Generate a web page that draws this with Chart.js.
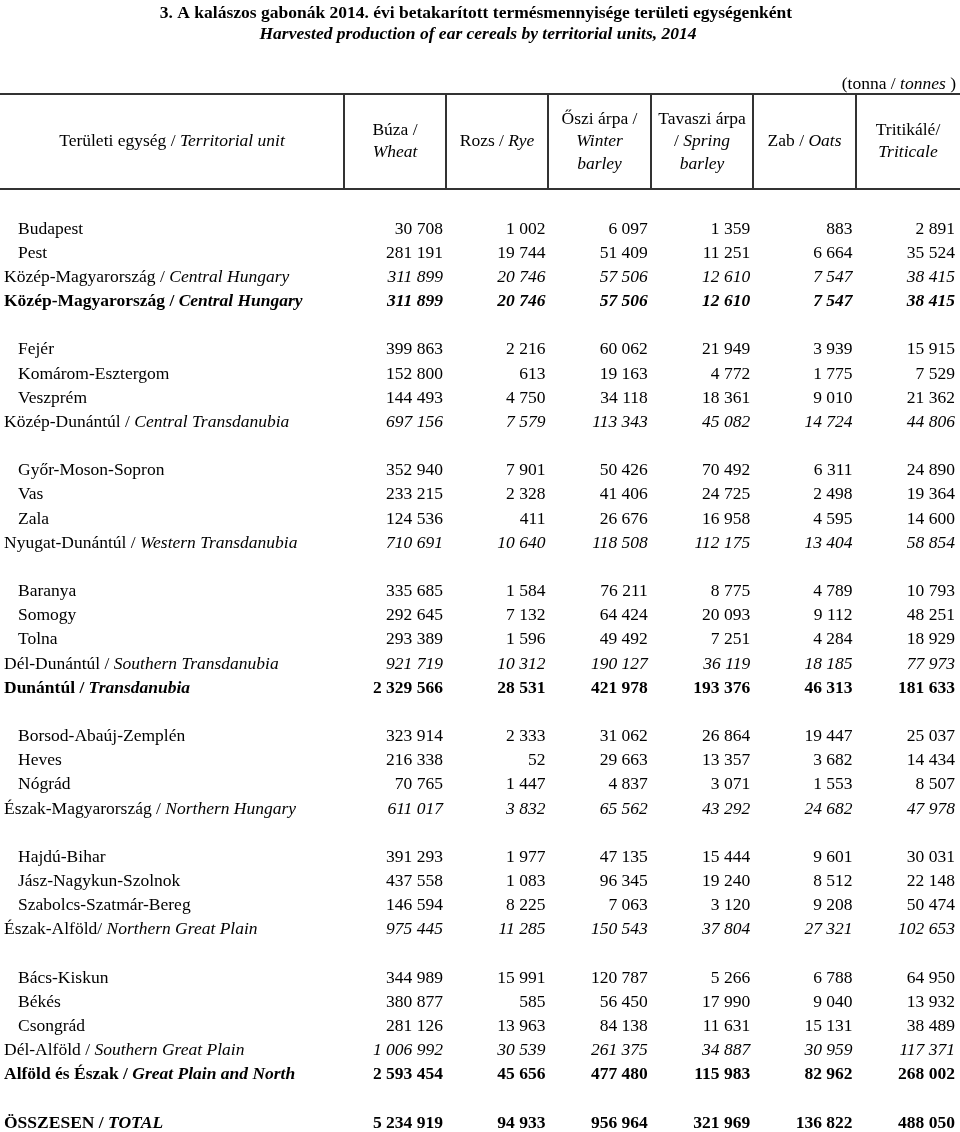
<!DOCTYPE html>
<html>
<head>
<meta charset="utf-8">
<script src="https://cdn.jsdelivr.net/npm/chart.js@4.4.1/dist/chart.umd.min.js"></script>
<style>
  body { margin: 0 ; background: #fff ; }
  #wrap { position: relative ; width: 960px ; height: 1132px ; }
</style>
</head>
<body>
<div id="wrap"><canvas id="table"></canvas></div>
<script>
const tableElement = document.getElementById('table') ;

// territorial units (hungarian part / english part)
const units = ['Budapest', 'Pest', 'Közép-Magyarország / ', 'Közép-Magyarország / ',
  'Fejér', 'Komárom-Esztergom', 'Veszprém', 'Közép-Dunántúl / ',
  'Győr-Moson-Sopron', 'Vas', 'Zala', 'Nyugat-Dunántúl / ',
  'Baranya', 'Somogy', 'Tolna', 'Dél-Dunántúl / ', 'Dunántúl / ',
  'Borsod-Abaúj-Zemplén', 'Heves', 'Nógrád', 'Észak-Magyarország / ',
  'Hajdú-Bihar', 'Jász-Nagykun-Szolnok', 'Szabolcs-Szatmár-Bereg', 'Észak-Alföld/ ',
  'Bács-Kiskun', 'Békés', 'Csongrád', 'Dél-Alföld / ', 'Alföld és Észak / ',
  'ÖSSZESEN / '] ;
const unitsEn = ['', '', 'Central Hungary', 'Central Hungary',
  '', '', '', 'Central Transdanubia',
  '', '', '', 'Western Transdanubia',
  '', '', '', 'Southern Transdanubia', 'Transdanubia',
  '', '', '', 'Northern Hungary',
  '', '', '', 'Northern Great Plain',
  '', '', '', 'Southern Great Plain', 'Great Plain and North',
  'TOTAL'] ;
// county = plain row, region = italic sum, regionBold / bold = emphasised sums
const kinds = ['county', 'county', 'region', 'regionBold',
  'county', 'county', 'county', 'region',
  'county', 'county', 'county', 'region',
  'county', 'county', 'county', 'region', 'bold',
  'county', 'county', 'county', 'region',
  'county', 'county', 'county', 'region',
  'county', 'county', 'county', 'region', 'bold',
  'bold'] ;
// a blank line is left before these rows
const groupFirst = ['Fejér', 'Győr-Moson-Sopron', 'Baranya', 'Borsod-Abaúj-Zemplén',
  'Hajdú-Bihar', 'Bács-Kiskun', 'ÖSSZESEN / '] ;

// harvested production, tonnes
const wheat = [30708, 281191, 311899, 311899,
  399863, 152800, 144493, 697156,
  352940, 233215, 124536, 710691,
  335685, 292645, 293389, 921719, 2329566,
  323914, 216338, 70765, 611017,
  391293, 437558, 146594, 975445,
  344989, 380877, 281126, 1006992, 2593454,
  5234919] ;
const rye = [1002, 19744, 20746, 20746,
  2216, 613, 4750, 7579,
  7901, 2328, 411, 10640,
  1584, 7132, 1596, 10312, 28531,
  2333, 52, 1447, 3832,
  1977, 1083, 8225, 11285,
  15991, 585, 13963, 30539, 45656,
  94933] ;
const winterBarley = [6097, 51409, 57506, 57506,
  60062, 19163, 34118, 113343,
  50426, 41406, 26676, 118508,
  76211, 64424, 49492, 190127, 421978,
  31062, 29663, 4837, 65562,
  47135, 96345, 7063, 150543,
  120787, 56450, 84138, 261375, 477480,
  956964] ;
const springBarley = [1359, 11251, 12610, 12610,
  21949, 4772, 18361, 45082,
  70492, 24725, 16958, 112175,
  8775, 20093, 7251, 36119, 193376,
  26864, 13357, 3071, 43292,
  15444, 19240, 3120, 37804,
  5266, 17990, 11631, 34887, 115983,
  321969] ;
const oats = [883, 6664, 7547, 7547,
  3939, 1775, 9010, 14724,
  6311, 2498, 4595, 13404,
  4789, 9112, 4284, 18185, 46313,
  19447, 3682, 1553, 24682,
  9601, 8512, 9208, 27321,
  6788, 9040, 15131, 30959, 82962,
  136822] ;
const triticale = [2891, 35524, 38415, 38415,
  15915, 7529, 21362, 44806,
  24890, 19364, 14600, 58854,
  10793, 48251, 18929, 77973, 181633,
  25037, 14434, 8507, 47978,
  30031, 22148, 50474, 102653,
  64950, 13932, 38489, 117371, 268002,
  488050] ;

const columns = [wheat, rye, winterBarley, springBarley, oats, triticale] ;

// header cells: lines, each line a list of [text, italic]
const headers = [
  [[['Búza /', false]], [['Wheat', true]]],
  [[['Rozs / ', false], ['Rye', true]]],
  [[['Őszi árpa /', false]], [['Winter', true]], [['barley', true]]],
  [[['Tavaszi árpa', false]], [['/ ', false], ['Spring', true]], [['barley', true]]],
  [[['Zab / ', false], ['Oats', true]]],
  [[['Tritikálé/', false]], [['Triticale', true]]]
] ;
const firstHeader = [[['Területi egység / ', false], ['Territorial unit', true]]] ;
const title = '3. A kalászos gabonák 2014. évi betakarított termésmennyisége területi egységenként' ;
const subtitle = 'Harvested production of ear cereals by territorial units, 2014' ;
const unitNote = [['(tonna / ', false], ['tonnes', true], [' )', false]] ;

// row slot of every unit, with the blank lines between groups
const slots = [] ;
let slot = 0 ;
units.forEach((u, i) => {
  if (i > 0 && groupFirst.includes(u)) slot++ ;
  slots.push(slot) ;
  slot++ ;
}) ;

const FAMILY = '"Liberation Serif", "Times New Roman", serif' ;
const SIZE = 17.5 ;

function font(style, weight, size) {
  return `${style} ${weight} ${size || SIZE}px ${FAMILY}` ;
}

function fmt(v) {
  return v.toString().replace(/\B(?=(\d{3})+(?!\d))/g, ' ') ;
}

// draw a list of text runs with mixed fonts
function drawRuns(ctx, runs, x, y, align, bold, size) {
  const fonts = runs.map(r => font(r[1] ? 'italic' : 'normal', bold ? 'bold' : 'normal', size)) ;
  let total = 0 ;
  runs.forEach((r, i) => { ctx.font = fonts[i] ; total += ctx.measureText(r[0]).width ; }) ;
  let cx = align === 'center' ? x - total / 2 : (align === 'right' ? x - total : x) ;
  ctx.textAlign = 'left' ;
  runs.forEach((r, i) => {
    ctx.font = fonts[i] ;
    ctx.fillText(r[0], cx, y) ;
    cx += ctx.measureText(r[0]).width ;
  }) ;
}

const tableText = {
  id: 'tableText',
  afterDatasetsDraw(chart) {
    const { ctx, chartArea: { left, right }, scales: { x, y } } = chart ;
    ctx.save() ;
    ctx.fillStyle = '#000' ;
    ctx.textBaseline = 'middle' ;

    // title
    drawRuns(ctx, [[title, false]], 476, 13, 'center', true) ;
    drawRuns(ctx, [[subtitle, true]], 478, 34, 'center', true) ;
    drawRuns(ctx, unitNote, right - 4, 84, 'right', false) ;

    // header frame
    const headTop = 94, headBottom = 189 ;
    ctx.strokeStyle = '#333' ;
    ctx.lineWidth = 2 ;
    ctx.beginPath() ;
    ctx.moveTo(left, headTop) ; ctx.lineTo(right, headTop) ;
    ctx.moveTo(left, headBottom) ; ctx.lineTo(right, headBottom) ;
    const edges = [left] ;
    for (let c = 1; c <= columns.length; c++) {
      const px = Math.round(x.getPixelForValue(c - 0.97)) ;
      edges.push(px) ;
      ctx.moveTo(px, headTop) ; ctx.lineTo(px, headBottom) ;
    }
    edges.push(right) ;
    ctx.stroke() ;

    const mid = (headTop + headBottom) / 2 ;
    const lineGap = 22.5 ;
    [firstHeader].concat(headers).forEach((cell, c) => {
      const cx = (edges[c] + edges[c + 1]) / 2 ;
      const y0 = mid - (cell.length - 1) * lineGap / 2 ;
      cell.forEach((line, k) => drawRuns(ctx, line, cx, y0 + k * lineGap, 'center', false)) ;
    }) ;

    // unit names
    units.forEach((u, i) => {
      const py = y.getPixelForValue(slots[i]) ;
      const kind = kinds[i] ;
      const bold = kind === 'bold' || kind === 'regionBold' ;
      const runs = unitsEn[i] ? [[u, false], [unitsEn[i], true]] : [[u, false]] ;
      drawRuns(ctx, runs, left + (kind === 'county' ? 18 : 4), py, 'left', bold) ;
    }) ;

    // values, placed on the points of each dataset
    chart.data.datasets.forEach((ds, d) => {
      chart.getDatasetMeta(d).data.forEach((el, i) => {
        const kind = kinds[i] ;
        const style = (kind === 'region' || kind === 'regionBold') ? 'italic' : 'normal' ;
        const weight = (kind === 'bold' || kind === 'regionBold') ? 'bold' : 'normal' ;
        ctx.font = font(style, weight) ;
        ctx.textAlign = 'right' ;
        ctx.fillText(fmt(columns[d][i]), el.x, el.y) ;
      }) ;
    }) ;
    ctx.restore() ;
  }
} ;

const table = new Chart(tableElement, {
  type: 'scatter',
  data: {
    datasets: columns.map((col, c) => ({
      data: col.map((v, i) => ({ x: c + 1, y: slots[i] })),
      pointRadius: 0,
      pointHoverRadius: 0
    }))
  },
  options: {
    responsive: true,
    maintainAspectRatio: false,
    animation: false,
    layout: { padding: { top: 200, left: 0, right: 0, bottom: 0 } },
    scales: {
      x: { type: 'linear', display: false, min: -3.326, max: 6.049 },
      y: { type: 'linear', display: false, reverse: true, min: -1.2, max: 37.37 }
    },
    plugins: {
      legend: { display: false },
      tooltip: { enabled: false }
    }
  },
  plugins: [tableText]
}) ;
</script>
</body>
</html>
